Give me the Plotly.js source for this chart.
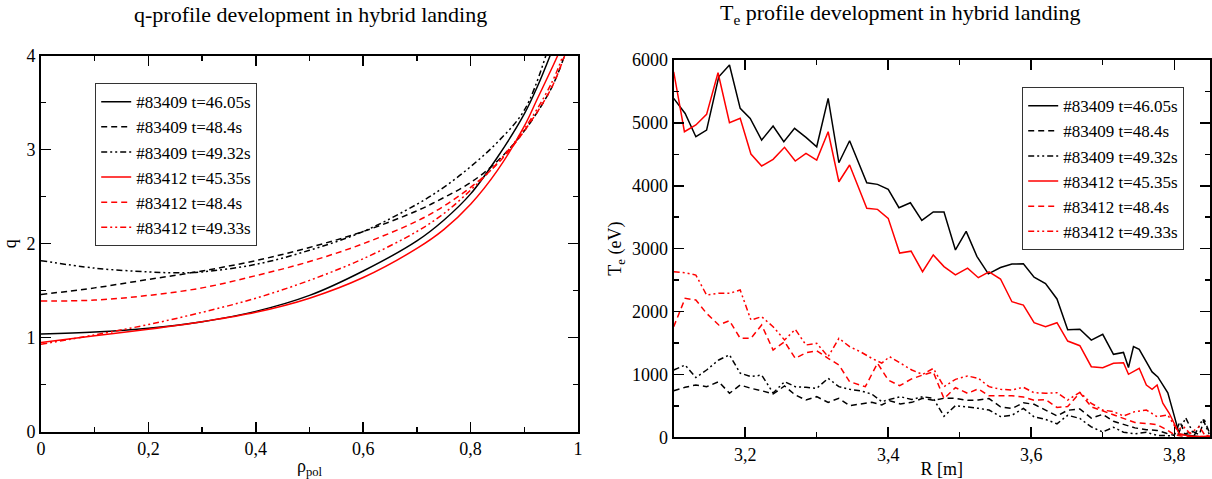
<!DOCTYPE html>
<html><head><meta charset="utf-8">
<script src="https://cdn.plot.ly/plotly-3.0.1.min.js"></script>
<style>html,body{margin:0;padding:0;background:#fff}#chart{width:1212px;height:479px}</style>
</head><body><div id="chart"></div>
<script>
// ---------- legend labels ----------
const seriesNames = ["#83409 t=46.05s","#83409 t=48.4s","#83409 t=49.32s","#83412 t=45.35s","#83412 t=48.4s","#83412 t=49.33s"];

// ---------- left panel: q profiles ----------
const rho_409_4605 = [0,0.1,0.2,0.3,0.4,0.5,0.6,0.7,0.75,0.8,0.85,0.9,0.925,0.948];
const q_409_4605   = [1.04,1.06,1.10,1.17,1.28,1.45,1.71,2.03,2.25,2.53,2.92,3.38,3.68,4.0];
const rho_409_484  = [0,0.1,0.2,0.3,0.4,0.5,0.6,0.7,0.75,0.8,0.85,0.9,0.95,0.975];
const q_409_484    = [1.46,1.53,1.62,1.71,1.82,1.96,2.13,2.35,2.49,2.65,2.88,3.2,3.65,4.0];
const rho_409_4932 = [0,0.1,0.2,0.25,0.3,0.4,0.5,0.6,0.7,0.75,0.8,0.85,0.9,0.94];
const q_409_4932   = [1.82,1.74,1.70,1.69,1.70,1.78,1.93,2.13,2.42,2.6,2.82,3.08,3.42,4.0];
const rho_412_4535 = [0,0.1,0.2,0.3,0.4,0.5,0.6,0.7,0.75,0.8,0.85,0.9,0.925,0.95,0.962];
const q_412_4535   = [0.95,1.02,1.09,1.17,1.27,1.42,1.64,1.95,2.15,2.42,2.78,3.25,3.55,3.85,4.0];
const rho_412_484  = [0,0.1,0.2,0.3,0.4,0.5,0.6,0.7,0.75,0.8,0.85,0.9,0.95,0.975];
const q_412_484    = [1.39,1.40,1.45,1.53,1.66,1.81,2.0,2.24,2.4,2.6,2.85,3.2,3.65,4.0];
const rho_412_4933 = [0,0.1,0.2,0.3,0.4,0.5,0.6,0.7,0.75,0.8,0.85,0.9,0.95,0.972];
const q_412_4933   = [0.93,1.03,1.14,1.27,1.42,1.61,1.84,2.13,2.32,2.57,2.86,3.22,3.7,4.0];

// ---------- right panel: Te profiles ----------
const R_409_4605 = [3.100,3.116,3.131,3.146,3.163,3.178,3.193,3.207,3.223,3.239,3.254,3.269,3.285,3.300,3.316,3.331,3.346,3.370,3.385,3.400,3.415,3.431,3.447,3.463,3.478,3.494,3.509,3.524,3.540,3.557,3.573,3.589,3.604,3.620,3.636,3.651,3.668,3.684,3.700,3.715,3.729,3.736,3.743,3.751,3.761,3.769,3.777,3.791,3.800,3.807,3.815,3.827,3.840,3.850];
const Te_409_4605 = [5390,5150,4780,4886,5733,5920,5231,5072,4727,4950,4700,4913,4770,4620,5390,4366,4716,4048,4022,3943,3651,3730,3450,3584,3584,2980,3275,2878,2600,2700,2755,2758,2545,2445,2200,1710,1718,1545,1637,1320,1350,1110,1442,1400,1198,1040,960,708,340,50,40,20,0,10];

const R_409_484 = [3.100,3.116,3.131,3.146,3.163,3.178,3.193,3.208,3.223,3.239,3.255,3.270,3.285,3.300,3.316,3.331,3.346,3.361,3.377,3.391,3.402,3.417,3.433,3.448,3.463,3.478,3.494,3.511,3.526,3.541,3.557,3.573,3.589,3.604,3.620,3.636,3.651,3.668,3.684,3.700,3.715,3.729,3.745,3.761,3.776,3.790,3.800,3.808,3.815,3.825,3.835,3.842,3.850];
const Te_409_484 = [741,795,832,805,884,700,832,779,741,688,816,673,593,646,556,620,503,529,556,514,582,530,556,620,590,620,620,588,593,615,485,458,548,525,435,340,430,450,305,365,255,205,150,120,110,60,30,250,50,100,40,280,50];

const R_409_4932 = [3.100,3.116,3.131,3.146,3.163,3.178,3.193,3.208,3.223,3.239,3.255,3.270,3.285,3.300,3.316,3.331,3.346,3.361,3.377,3.391,3.402,3.417,3.433,3.448,3.463,3.478,3.494,3.511,3.526,3.541,3.557,3.573,3.589,3.604,3.620,3.636,3.651,3.668,3.684,3.700,3.715,3.729,3.745,3.761,3.776,3.794,3.805,3.816,3.828,3.840,3.850];
const Te_409_4932 = [1070,1150,950,1070,1230,1310,1020,965,990,705,884,805,795,779,938,805,763,741,688,566,603,646,600,646,620,335,503,487,461,434,330,350,460,325,285,215,350,300,165,85,160,80,55,80,30,25,40,310,30,290,20];

const R_412_4535 = [3.100,3.115,3.131,3.146,3.162,3.178,3.193,3.208,3.223,3.239,3.255,3.270,3.285,3.300,3.316,3.331,3.346,3.370,3.385,3.400,3.416,3.432,3.448,3.463,3.478,3.494,3.511,3.526,3.541,3.557,3.573,3.589,3.604,3.620,3.636,3.651,3.668,3.684,3.700,3.715,3.729,3.736,3.751,3.761,3.769,3.776,3.784,3.793,3.801,3.807,3.820,3.835,3.850];
const Te_412_4535 = [5813,4859,4966,5135,5797,5002,5072,4505,4314,4420,4611,4393,4515,4409,4859,4064,4330,3641,3625,3482,2930,2960,2633,2900,2715,2583,2690,2538,2630,2517,2156,2103,1822,1759,1822,1531,1457,1123,1107,1177,1186,1002,1097,832,763,832,541,382,196,55,20,10,20];

const R_412_484 = [3.100,3.116,3.131,3.146,3.163,3.178,3.193,3.208,3.223,3.239,3.255,3.270,3.285,3.300,3.316,3.331,3.346,3.368,3.385,3.400,3.416,3.432,3.448,3.463,3.478,3.494,3.511,3.526,3.541,3.557,3.573,3.589,3.604,3.620,3.636,3.651,3.668,3.684,3.700,3.715,3.729,3.745,3.761,3.776,3.791,3.800,3.810,3.830,3.850];
const Te_412_484 = [1759,2210,2183,1971,1786,1854,1574,1574,1786,1388,1520,1256,1345,1377,1256,1150,884,805,1177,911,820,925,990,1040,615,790,700,770,660,665,660,640,590,600,475,490,710,485,420,355,300,235,220,200,110,40,20,10,10];

const R_412_4933 = [3.100,3.116,3.131,3.146,3.163,3.178,3.193,3.208,3.223,3.239,3.255,3.270,3.285,3.300,3.316,3.331,3.346,3.361,3.377,3.391,3.402,3.417,3.433,3.448,3.463,3.478,3.494,3.511,3.526,3.541,3.557,3.573,3.589,3.604,3.620,3.636,3.651,3.668,3.684,3.700,3.715,3.729,3.745,3.761,3.776,3.791,3.804,3.813,3.822,3.835,3.843,3.850];
const Te_412_4933 = [2633,2617,2580,2263,2290,2290,2342,1865,1918,1759,1547,1717,1468,1494,1282,1574,1441,1361,1256,1180,1282,1177,1070,1000,1095,805,922,975,938,805,763,752,795,709,700,709,593,715,541,434,408,339,408,434,328,355,116,170,60,170,30,20];

// ---------- tick labels ----------
const qTickVals = [0,1,2,3,4];
const qTickText = ["0","1","2","3","4"];
const rhoTickVals = [0,0.2,0.4,0.6,0.8,1];
const rhoTickText = ["0","0,2","0,4","0,6","0,8","1"];
const TeTickVals = [0,1000,2000,3000,4000,5000,6000];
const TeTickText = ["0","1000","2000","3000","4000","5000","6000"];
const RTickVals = [3.2,3.4,3.6,3.8];
const RTickText = ["3,2","3,4","3,6","3,8"];

// ---------- styling ----------
const FONT = "Liberation Serif";
const BLACK = "#000000", RED = "#ff0000";
const DASH = "6px,4px";
const DASHDOT = "6px,3px,2px,3px,2px,3px";
const styles = [
  {color: BLACK, dash: "solid"},
  {color: BLACK, dash: DASH},
  {color: BLACK, dash: DASHDOT},
  {color: RED, dash: "solid"},
  {color: RED, dash: DASH},
  {color: RED, dash: DASHDOT}
];

const leftX = [rho_409_4605, rho_409_484, rho_409_4932, rho_412_4535, rho_412_484, rho_412_4933];
const leftY = [q_409_4605, q_409_484, q_409_4932, q_412_4535, q_412_484, q_412_4933];
const rightX = [R_409_4605, R_409_484, R_409_4932, R_412_4535, R_412_484, R_412_4933];
const rightY = [Te_409_4605, Te_409_484, Te_409_4932, Te_412_4535, Te_412_484, Te_412_4933];

const traces = [];
for (let i = 0; i < 6; i++) {
  traces.push({
    x: leftX[i], y: leftY[i], type: "scatter", mode: "lines",
    name: seriesNames[i], xaxis: "x", yaxis: "y", legend: "legend",
    line: {color: styles[i].color, dash: styles[i].dash, width: 1.5, shape: "spline", smoothing: 1},
    hoverinfo: "x+y"
  });
}
for (let i = 0; i < 6; i++) {
  traces.push({
    x: rightX[i], y: rightY[i], type: "scatter", mode: "lines",
    name: seriesNames[i], xaxis: "x2", yaxis: "y2", legend: "legend2",
    line: {color: styles[i].color, dash: styles[i].dash, width: 1.5},
    hoverinfo: "x+y"
  });
}

const W = 1212, H = 479;
const mL = 41, mR = 2, mT = 55, mB = 41;
const pw = W - mL - mR, ph = H - mT - mB;
const px2x = p => (p - mL) / pw;
const py2y = p => (H - mB - p) / ph;

function axisBase(extra) {
  return Object.assign({
    showline: true, linecolor: BLACK, linewidth: 2, mirror: "allticks",
    ticks: "inside", ticklen: 10, tickwidth: 1.5, tickcolor: BLACK,
    showgrid: false, zeroline: false, fixedrange: true,
    tickfont: {family: FONT, size: 18, color: BLACK},
    tickmode: "array"
  }, extra);
}

const layout = {
  width: W, height: H,
  margin: {l: mL, r: mR, t: mT, b: mB, pad: 0},
  paper_bgcolor: "#ffffff", plot_bgcolor: "#ffffff",
  font: {family: FONT, color: BLACK, size: 18},
  showlegend: true,
  xaxis: axisBase({
    domain: [px2x(41), px2x(578)], range: [0, 1], anchor: "y",
    tickvals: rhoTickVals, ticktext: rhoTickText,
    minor: {tickmode: "linear", tick0: 0, dtick: 0.1, ticks: "inside", ticklen: 5, tickwidth: 1.5, tickcolor: BLACK},
    title: {text: "ρ<sub>pol</sub>", font: {family: FONT, size: 18, color: BLACK}, standoff: 2}
  }),
  yaxis: axisBase({
    domain: [py2y(431.7), py2y(55.7)], range: [0, 4], anchor: "x",
    tickvals: qTickVals, ticktext: qTickText,
    minor: {tickmode: "linear", tick0: 0, dtick: 0.5, ticks: "inside", ticklen: 5, tickwidth: 1.5, tickcolor: BLACK},
    title: {text: "q", font: {family: FONT, size: 18, color: BLACK}, standoff: 6}
  }),
  xaxis2: axisBase({
    domain: [px2x(673.7), px2x(1210)], range: [3.1, 3.85], anchor: "y2",
    tickvals: RTickVals, ticktext: RTickText,
    minor: {tickmode: "linear", tick0: 3.1, dtick: 0.1, ticks: "inside", ticklen: 5, tickwidth: 1.5, tickcolor: BLACK},
    title: {text: "R [m]", font: {family: FONT, size: 18, color: BLACK}, standoff: 4}
  }),
  yaxis2: axisBase({
    domain: [py2y(437.3), py2y(60)], range: [0, 6000], anchor: "x2",
    tickvals: TeTickVals, ticktext: TeTickText,
    minor: {tickmode: "linear", tick0: 0, dtick: 500, ticks: "inside", ticklen: 5, tickwidth: 1.5, tickcolor: BLACK},
    title: {text: "T<sub>e</sub> (eV)", font: {family: FONT, size: 18, color: BLACK}, standoff: 6}
  }),
  legend: {
    x: px2x(95), y: py2y(83), xanchor: "left", yanchor: "top",
    bgcolor: "#ffffff", bordercolor: "#333333", borderwidth: 1.2,
    font: {family: FONT, size: 17, color: BLACK}, itemwidth: 30, tracegroupgap: 0
  },
  legend2: {
    x: px2x(1022), y: py2y(87), xanchor: "left", yanchor: "top",
    bgcolor: "#ffffff", bordercolor: "#333333", borderwidth: 1.2,
    font: {family: FONT, size: 17, color: BLACK}, itemwidth: 30, tracegroupgap: 0
  },
  annotations: [
    {text: "q-profile development in hybrid landing", xref: "paper", yref: "paper",
     x: px2x(310), y: py2y(14), xanchor: "center", yanchor: "middle", showarrow: false,
     font: {family: FONT, size: 22, color: BLACK}},
    {text: "T<sub>e</sub> profile development in hybrid landing", xref: "paper", yref: "paper",
     x: px2x(901), y: py2y(14), xanchor: "center", yanchor: "middle", showarrow: false,
     font: {family: FONT, size: 22, color: BLACK}}
  ]
};

Plotly.newPlot("chart", traces, layout, {staticPlot: true, displayModeBar: false});
</script>
</body></html>
